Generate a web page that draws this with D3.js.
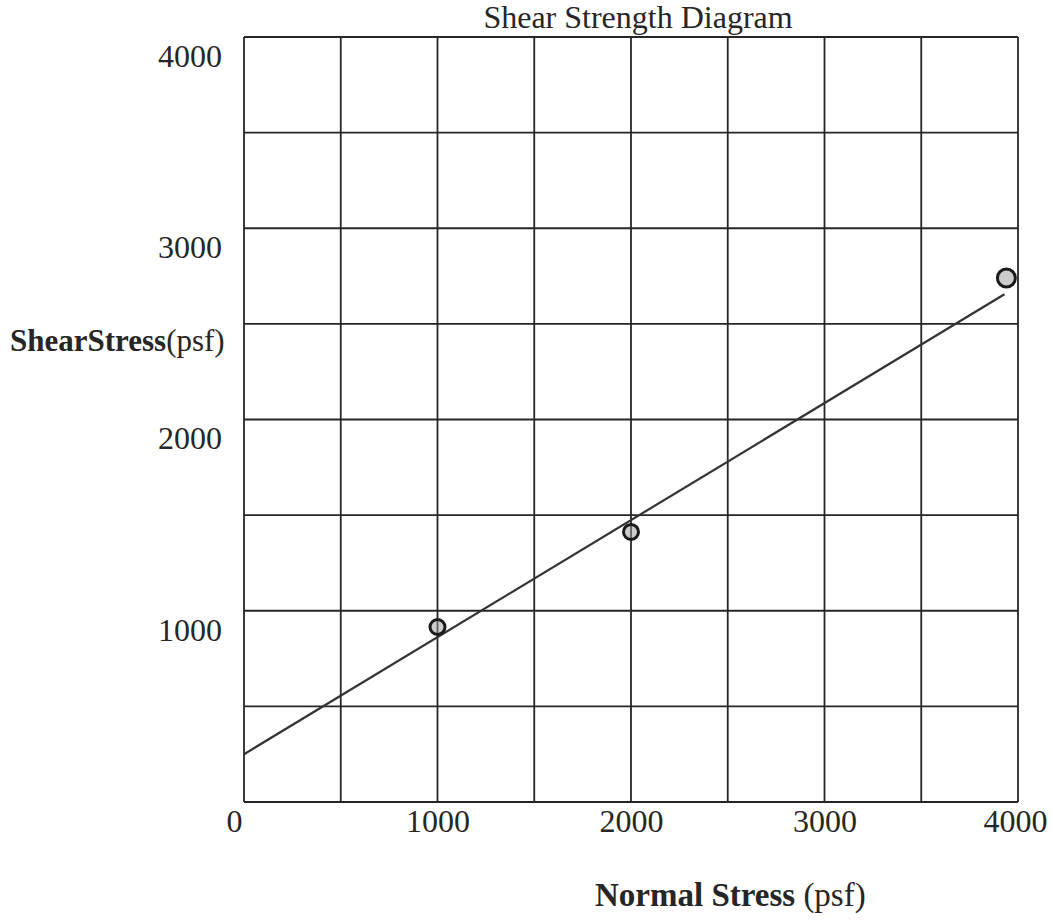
<!DOCTYPE html>
<html>
<head>
<meta charset="utf-8">
<script src="https://cdn.jsdelivr.net/npm/d3@7"></script>
<style>
  body { margin: 0; background: #fff; }
  svg { display: block; }
</style>
</head>
<body>
<svg id="chart" width="1052" height="920"></svg>
<script>
// values (psf)
const normalStress = [1000, 2000, 3940]
const shearStress = [915, 1412, 2740]
const fitX = [0, 3930]
const fitY = [250, 2655]
const gridValues = [0, 500, 1000, 1500, 2000, 2500, 3000, 3500, 4000]
const xTicks = [0, 1000, 2000, 3000, 4000]
const yTicks = [1000, 2000, 3000, 4000]

const ink = '#262626'
const font = '"Liberation Serif", "Times New Roman", serif'

const svg = d3.select('#chart')

const x = d3.scaleLinear().domain([0, 4000]).range([244, 1018])
const y = d3.scaleLinear().domain([0, 4000]).range([802, 37])

// grid
const grid = svg.append('g')
grid.selectAll('.vline')
    .data(gridValues)
    .enter().append('line')
    .attr('x1', d => x(d)).attr('x2', d => x(d))
    .attr('y1', y(4000)).attr('y2', y(0))
    .attr('stroke', ink)
    .attr('stroke-width', 1.8)
grid.selectAll('.hline')
    .data(gridValues)
    .enter().append('line')
    .attr('x1', x(0)).attr('x2', x(4000))
    .attr('y1', d => y(d)).attr('y2', d => y(d))
    .attr('stroke', ink)
    .attr('stroke-width', 1.8)

// axes (labels only)
const yAxis = svg.append('g')
    .attr('transform', `translate(${x(0)},0)`)
    .call(d3.axisLeft(y).tickValues(yTicks).tickFormat(d3.format('d')).tickSize(0).tickPadding(22))
yAxis.select('.domain').remove()
yAxis.selectAll('text')
    .attr('transform', 'translate(0,19)')
    .style('font-family', font)
    .style('font-size', '32px')
    .style('fill', ink)

const xAxis = svg.append('g')
    .attr('transform', `translate(0,${y(0)})`)
    .call(d3.axisBottom(x).tickValues(xTicks).tickFormat(d3.format('d')).tickSize(0))
xAxis.select('.domain').remove()
xAxis.selectAll('text')
    .attr('y', 30)
    .attr('dy', 0)
    .attr('dx', d => d === 0 ? -10 : (d === 4000 ? -3 : 0))
    .style('font-family', font)
    .style('font-size', '32px')
    .style('fill', ink)

// fitted strength line
const line = d3.line()
    .x(d => x(d[0]))
    .y(d => y(d[1]))
svg.append('path')
    .datum(d3.zip(fitX, fitY))
    .attr('fill', 'none')
    .attr('stroke', '#333')
    .attr('stroke-width', 2.2)
    .attr('d', line)

// test points
svg.selectAll('.pt')
    .data(d3.zip(normalStress, shearStress))
    .enter().append('circle')
    .attr('cx', d => x(d[0]))
    .attr('cy', d => y(d[1]))
    .attr('r', (d, i) => i === 2 ? 9 : 7.5)
    .attr('fill', '#999')
    .attr('fill-opacity', 0.5)
    .attr('stroke', '#1a1a1a')
    .attr('stroke-width', 3)

// titles
svg.append('text')
    .attr('x', 638).attr('y', 28)
    .attr('text-anchor', 'middle')
    .style('font-family', font)
    .style('font-size', '32px')
    .style('fill', ink)
    .text('Shear Strength Diagram')

const yLab = svg.append('text')
    .attr('x', 10).attr('y', 351)
    .style('font-family', font)
    .style('font-size', '31px')
    .style('fill', ink)
yLab.append('tspan').style('font-weight', 'bold').text('ShearStress')
yLab.append('tspan').text('(psf)')

const xLab = svg.append('text')
    .attr('x', 595).attr('y', 906)
    .style('font-family', font)
    .style('font-size', '33px')
    .style('fill', ink)
xLab.append('tspan').style('font-weight', 'bold').text('Normal Stress')
xLab.append('tspan').text(' (psf)')
</script>
</body>
</html>
